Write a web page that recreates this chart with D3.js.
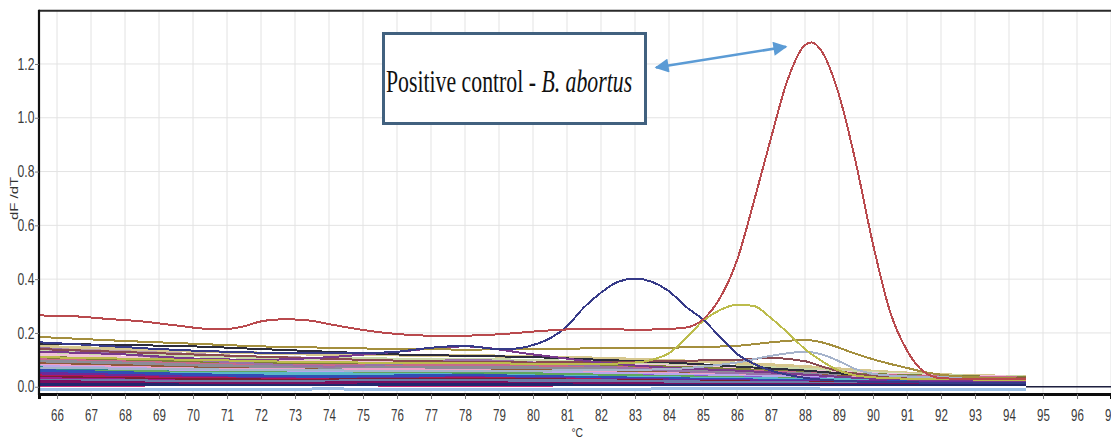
<!DOCTYPE html>
<html>
<head>
<meta charset="utf-8">
<script src="https://cdn.jsdelivr.net/npm/d3@7"></script>
<style>
  html, body { margin: 0; padding: 0; background: #fff; }
  svg { display: block; }
  .tick text { font-family: "Liberation Sans", Arial, sans-serif; fill: #3a3a3a; }
</style>
</head>
<body>
<svg id="chart" width="1111" height="442"></svg>
<script>
// ---- Melt-curve data: temperature (°C) vs derivative dF/dT ----

// Axis ticks
const xTicks = d3.range(66, 98);
const yTicks = [0, 0.2, 0.4, 0.6, 0.8, 1.0, 1.2];

// Positive control (B. abortus) — melt peak near 88 °C
const positiveTemps = [65.5, 66.5, 67.5, 68.5, 69.5, 70.5, 71, 71.5, 72, 72.5, 73, 73.5, 74, 75, 76, 77, 78, 79, 80, 81, 82, 83, 84, 84.5, 85, 85.5, 86, 86.5, 87, 87.5, 88, 88.2, 88.5, 89, 89.5, 90, 90.5, 91, 91.5, 92, 93, 94, 94.5];
const positiveValues = [0.265, 0.262, 0.252, 0.243, 0.228, 0.215, 0.215, 0.225, 0.243, 0.25, 0.25, 0.245, 0.233, 0.211, 0.196, 0.19, 0.19, 0.195, 0.205, 0.213, 0.215, 0.212, 0.215, 0.22, 0.25, 0.33, 0.47, 0.69, 0.925, 1.145, 1.27, 1.28, 1.245, 1.085, 0.83, 0.53, 0.28, 0.135, 0.055, 0.032, 0.028, 0.028, 0.028];

// Sample with a peak near 83 °C
const peak83Temps = [65.5, 67, 69, 71, 73, 75, 76, 77, 78, 79, 79.5, 80, 80.5, 81, 81.5, 82, 82.5, 83, 83.5, 84, 84.5, 85, 85.5, 86, 86.5, 87, 88, 89, 90, 92, 94.5];
const peak83Values = [0.165, 0.155, 0.14, 0.13, 0.125, 0.125, 0.13, 0.145, 0.152, 0.14, 0.142, 0.155, 0.18, 0.225, 0.295, 0.35, 0.39, 0.402, 0.39, 0.355, 0.297, 0.25, 0.185, 0.122, 0.085, 0.06, 0.033, 0.022, 0.018, 0.015, 0.012];

// Sample with a peak near 86 °C
const peak86Temps = [65.5, 70, 75, 78, 80, 82, 83, 83.5, 84, 84.5, 85, 85.5, 86, 86.5, 87, 87.5, 88, 88.5, 89, 89.5, 90, 91, 92, 94.5];
const peak86Values = [0.11, 0.1, 0.09, 0.09, 0.085, 0.085, 0.09, 0.1, 0.125, 0.18, 0.245, 0.285, 0.305, 0.3, 0.255, 0.2, 0.14, 0.095, 0.06, 0.042, 0.035, 0.03, 0.028, 0.025];

// Broad low peak near 88 °C
const broad88Temps = [65.5, 68, 70, 72, 74, 76, 78, 80, 82, 84, 85, 86, 87, 88, 88.5, 89, 89.5, 90, 90.5, 91, 91.5, 92, 93, 94.5];
const broad88Values = [0.185, 0.17, 0.16, 0.15, 0.145, 0.14, 0.138, 0.14, 0.143, 0.145, 0.148, 0.152, 0.165, 0.174, 0.165, 0.145, 0.122, 0.102, 0.085, 0.07, 0.055, 0.045, 0.035, 0.03];

// Small shoulders near 87–88 °C
const shoulderTemps = [65.5, 70, 75, 80, 84, 85, 86, 87, 88, 88.5, 89, 89.5, 90, 91, 92, 94.5];
const shoulderBlueValues = [0.07, 0.065, 0.06, 0.06, 0.065, 0.075, 0.09, 0.115, 0.13, 0.12, 0.095, 0.065, 0.048, 0.038, 0.035, 0.03];
const shoulderBrownValues = [0.14, 0.12, 0.1, 0.09, 0.095, 0.098, 0.1, 0.107, 0.095, 0.075, 0.058, 0.048, 0.04, 0.033, 0.03, 0.025];

// Background samples (no specific product), common temperature grid
const bandTemps = [65.5, 68, 70, 72, 74, 76, 78, 80, 82, 84, 86, 88, 90, 92, 94.5];
const hump78Values  = [0.13, 0.12, 0.105, 0.1, 0.11, 0.13, 0.15, 0.12, 0.09, 0.07, 0.06, 0.045, 0.03, 0.025, 0.02];
const mauveValues   = [0.145, 0.12, 0.1, 0.085, 0.075, 0.085, 0.1, 0.09, 0.075, 0.06, 0.05, 0.045, 0.03, 0.025, 0.02];
const darkValues    = [0.16, 0.155, 0.15, 0.14, 0.13, 0.12, 0.115, 0.11, 0.1, 0.09, 0.075, 0.06, 0.04, 0.03, 0.025];
const s01 = [0.030, 0.025, 0.020, 0.018, 0.018, 0.020, 0.022, 0.020, 0.018, 0.015, 0.012, 0.010, 0.010, 0.010, 0.010];
const s02 = [0.040, 0.035, 0.030, 0.028, 0.027, 0.028, 0.030, 0.028, 0.025, 0.020, 0.018, 0.015, 0.014, 0.013, 0.012];
const s03 = [0.020, 0.015, 0.012, 0.012, 0.014, 0.015, 0.015, 0.013, 0.012, 0.010, 0.008, 0.008, 0.008, 0.008, 0.008];
const s04 = [0.050, 0.042, 0.035, 0.030, 0.028, 0.030, 0.033, 0.030, 0.028, 0.025, 0.022, 0.020, 0.018, 0.016, 0.015];
const s05 = [0.010, 0.008, 0.006, 0.005, 0.006, 0.007, 0.008, 0.007, 0.006, 0.005, 0.004, 0.004, 0.004, 0.004, 0.004];
const s06 = [0.060, 0.052, 0.045, 0.040, 0.038, 0.040, 0.042, 0.038, 0.034, 0.030, 0.026, 0.022, 0.020, 0.018, 0.016];
const s07 = [0.070, 0.060, 0.052, 0.048, 0.047, 0.050, 0.048, 0.044, 0.040, 0.035, 0.030, 0.026, 0.023, 0.020, 0.018];
const s08 = [0.055, 0.050, 0.046, 0.045, 0.046, 0.047, 0.045, 0.040, 0.036, 0.032, 0.028, 0.024, 0.022, 0.020, 0.018];
const s09 = [0.045, 0.048, 0.050, 0.050, 0.048, 0.046, 0.043, 0.040, 0.036, 0.033, 0.030, 0.028, 0.025, 0.022, 0.020];
const s10 = [-0.012, -0.012, -0.010, -0.010, -0.008, -0.010, -0.010, -0.012, -0.010, -0.008, -0.008, -0.008, -0.010, -0.010, -0.012];
const s11 = [0.075, 0.068, 0.062, 0.060, 0.058, 0.058, 0.057, 0.054, 0.050, 0.045, 0.040, 0.035, 0.030, 0.028, 0.026];
const s12 = [0.080, 0.072, 0.066, 0.063, 0.062, 0.063, 0.060, 0.056, 0.052, 0.048, 0.043, 0.038, 0.033, 0.030, 0.028];
const s13 = [0.035, 0.030, 0.026, 0.025, 0.025, 0.027, 0.028, 0.026, 0.024, 0.021, 0.018, 0.016, 0.014, 0.012, 0.011];
const s14 = [0.085, 0.078, 0.070, 0.065, 0.062, 0.062, 0.062, 0.060, 0.057, 0.053, 0.048, 0.042, 0.036, 0.032, 0.030];
const s15 = [0.095, 0.088, 0.080, 0.075, 0.072, 0.072, 0.072, 0.070, 0.066, 0.060, 0.054, 0.048, 0.040, 0.034, 0.030];
const s16 = [0.065, 0.058, 0.052, 0.048, 0.046, 0.048, 0.050, 0.047, 0.043, 0.039, 0.034, 0.030, 0.026, 0.022, 0.020];
const s17 = [-0.005, -0.005, -0.004, -0.004, -0.004, -0.005, -0.005, -0.005, -0.004, -0.004, -0.003, -0.003, -0.004, -0.004, -0.004];
const s18 = [0.058, 0.056, 0.054, 0.052, 0.050, 0.051, 0.052, 0.048, 0.043, 0.038, 0.033, 0.028, 0.024, 0.021, 0.019];
const s19 = [0.100, 0.092, 0.085, 0.080, 0.078, 0.080, 0.082, 0.078, 0.072, 0.066, 0.058, 0.050, 0.042, 0.036, 0.032];
const s20 = [0.110, 0.100, 0.092, 0.088, 0.086, 0.087, 0.088, 0.085, 0.080, 0.073, 0.064, 0.055, 0.045, 0.038, 0.034];
const s21 = [0.120, 0.110, 0.102, 0.096, 0.093, 0.094, 0.095, 0.090, 0.084, 0.077, 0.068, 0.058, 0.048, 0.040, 0.035];
const s22 = [0.130, 0.122, 0.115, 0.108, 0.104, 0.103, 0.102, 0.098, 0.092, 0.085, 0.076, 0.065, 0.052, 0.042, 0.036];
const s23 = [0.025, 0.022, 0.020, 0.020, 0.021, 0.023, 0.025, 0.024, 0.022, 0.019, 0.016, 0.014, 0.012, 0.011, 0.010];
const s24 = [0.005, 0.004, 0.003, 0.003, 0.004, 0.005, 0.006, 0.006, 0.005, 0.004, 0.003, 0.002, 0.002, 0.002, 0.002];
const s25 = [0.150, 0.140, 0.132, 0.125, 0.120, 0.118, 0.116, 0.112, 0.106, 0.098, 0.088, 0.075, 0.058, 0.045, 0.038];
const s26 = [0.140, 0.130, 0.120, 0.110, 0.105, 0.100, 0.098, 0.092, 0.086, 0.080, 0.070, 0.060, 0.048, 0.040, 0.035];

// Run colours for the background samples (drawn in this order)
const bandSeries = [s25, s26, s22, s21, s20, s19, s15, s14, s12, s11, s16, s07, s18, s08, s09, s06, s04, s02, s13, s01, s23, s03, s24, s05, s17, s10];
const bandColors = ["#d6c78e", "#b99aa9", "#c9d8a9", "#f1c4d8", "#80803a", "#c76a8b", "#8c8c97", "#8e5a3c", "#eea0c8", "#b9a6ec", "#8a5ad0", "#2a8c8c", "#5ea85e", "#3f9a6a", "#5ab8c8", "#2f4fb5", "#6a2a9a", "#b3165a", "#7c1f33", "#9b1f8f", "#6a7aa8", "#7a0f5e", "#d0307a", "#22286e", "#ffffff", "#9cc0e6"];

// ---- Layout ----
const plot = { left: 39, right: 1111, top: 10.7, bottom: 394 };

const svg = d3.select("#chart");

const x = d3.scaleLinear().domain([65.47, 97.0]).range([plot.left, plot.right]);
const y = d3.scaleLinear().domain([-0.027, 1.398]).range([plot.bottom, plot.top]);

// Grid
const grid = svg.append("g").attr("class", "grid");
grid.selectAll("line.v").data(xTicks).join("line")
  .attr("x1", d => x(d)).attr("x2", d => x(d))
  .attr("y1", plot.top).attr("y2", plot.bottom)
  .attr("stroke", "#e3e3e3").attr("stroke-width", 1);
grid.selectAll("line.h").data(yTicks).join("line")
  .attr("x1", plot.left).attr("x2", plot.right)
  .attr("y1", d => y(d)).attr("y2", d => y(d))
  .attr("stroke", "#e3e3e3").attr("stroke-width", 1);

// Clip for curves
svg.append("clipPath").attr("id", "plotClip").append("rect")
  .attr("x", plot.left).attr("y", plot.top)
  .attr("width", plot.right - plot.left).attr("height", plot.bottom - plot.top);

const curves = svg.append("g").attr("clip-path", "url(#plotClip)");

const makeLine = temps => d3.line()
  .x((d, i) => x(temps[i]))
  .y(d => y(d))
  .curve(d3.curveMonotoneX);

// Zero baseline beyond the last reading
curves.append("line")
  .attr("x1", x(94.5)).attr("x2", plot.right)
  .attr("y1", y(0)).attr("y2", y(0))
  .attr("stroke", "#1e2040").attr("stroke-width", 1.5);

// Background samples
const bandLine = makeLine(bandTemps);
curves.selectAll("path.band").data(bandSeries).join("path")
  .attr("class", "band")
  .attr("d", d => bandLine(d))
  .attr("fill", "none")
  .attr("stroke", (d, i) => bandColors[i])
  .attr("stroke-width", 3)
  .attr("shape-rendering", "crispEdges");

// Named samples, drawn over the background
const midSeries = [
  { temps: bandTemps, values: mauveValues, color: "#9a72a6" },
  { temps: bandTemps, values: darkValues, color: "#2c2c3c" },
  { temps: shoulderTemps, values: shoulderBrownValues, color: "#8a4a52" },
  { temps: bandTemps, values: hump78Values, color: "#7a3a8c" },
  { temps: shoulderTemps, values: shoulderBlueValues, color: "#a5b3cb" },
  { temps: broad88Temps, values: broad88Values, color: "#a48f3e" },
  { temps: peak86Temps, values: peak86Values, color: "#bcbc4c" },
  { temps: peak83Temps, values: peak83Values, color: "#363a88" },
  { temps: positiveTemps, values: positiveValues, color: "#b94a4e" }
];
curves.selectAll("path.main").data(midSeries).join("path")
  .attr("class", "main")
  .attr("d", d => makeLine(d.temps)(d.values))
  .attr("fill", "none")
  .attr("stroke", d => d.color)
  .attr("stroke-width", 2)
  .attr("shape-rendering", "crispEdges");

// Frame
svg.append("line").attr("x1", plot.left).attr("x2", plot.right)
  .attr("y1", plot.top).attr("y2", plot.top)
  .attr("stroke", "#2a2a2a").attr("stroke-width", 2);
svg.append("line").attr("x1", plot.left).attr("x2", plot.left)
  .attr("y1", plot.top - 1).attr("y2", plot.bottom + 1)
  .attr("stroke", "#111").attr("stroke-width", 2.2);

// X axis
const xAxis = svg.append("g")
  .attr("transform", `translate(0,${plot.bottom})`)
  .call(d3.axisBottom(x).tickValues(xTicks).tickFormat(d3.format("d")).tickSize(5).tickPadding(10));
xAxis.select(".domain").attr("stroke", "#0c0c0c").attr("stroke-width", 3);
xAxis.selectAll(".tick line").attr("stroke", "#777");
xAxis.selectAll(".tick text")
  .attr("font-size", 17)
  .attr("transform", "scale(0.68,1)");

// Y axis
const yAxis = svg.append("g")
  .attr("transform", `translate(${plot.left},0)`)
  .call(d3.axisLeft(y).tickValues(yTicks).tickFormat(d3.format(".1f")).tickSize(4).tickPadding(2));
yAxis.select(".domain").remove();
yAxis.selectAll(".tick line").attr("stroke", "#777");
yAxis.selectAll(".tick text")
  .attr("font-size", 16)
  .attr("transform", "scale(0.76,1)");

// Axis titles
svg.append("text")
  .attr("transform", `translate(18,${y(0.7)}) rotate(-90) scale(1,0.72)`)
  .attr("text-anchor", "middle")
  .attr("font-family", "Liberation Sans, Arial, sans-serif")
  .attr("font-size", 15)
  .attr("fill", "#333")
  .text("dF /dT");

svg.append("text")
  .attr("transform", `translate(${x(81.3)},437) scale(0.8,1)`)
  .attr("text-anchor", "middle")
  .attr("font-family", "Liberation Sans, Arial, sans-serif")
  .attr("font-size", 13)
  .attr("fill", "#333")
  .text("°C");

// Annotation: positive control callout
const note = svg.append("g");
note.append("rect")
  .attr("x", 383.5).attr("y", 33.5).attr("width", 262).attr("height", 90)
  .attr("fill", "#fff").attr("stroke", "#41617f").attr("stroke-width", 3);
const noteText = note.append("text")
  .attr("transform", "translate(386,91.5) scale(0.67,1)")
  .attr("font-family", "Liberation Serif, 'Times New Roman', serif")
  .attr("font-size", 32.5)
  .attr("fill", "#111");
noteText.append("tspan").text("Positive control - ");
noteText.append("tspan").attr("font-style", "italic").text("B. abortus");

// Double-headed arrow to the peak
const defs = svg.append("defs");
["start", "end"].forEach(k => {
  defs.append("marker")
    .attr("id", "arrow-" + k)
    .attr("viewBox", "0 0 10 10")
    .attr("refX", 9).attr("refY", 5)
    .attr("markerUnits", "userSpaceOnUse")
    .attr("markerWidth", 15).attr("markerHeight", 14)
    .attr("orient", k === "start" ? "auto-start-reverse" : "auto")
    .append("path").attr("d", "M0,0 L10,5 L0,10 Z").attr("fill", "#5b9bd5");
});
svg.append("line")
  .attr("x1", 656).attr("y1", 67.5)
  .attr("x2", 786).attr("y2", 46.8)
  .attr("stroke", "#5b9bd5").attr("stroke-width", 2.6)
  .attr("marker-start", "url(#arrow-start)")
  .attr("marker-end", "url(#arrow-end)");
</script>
</body>
</html>
